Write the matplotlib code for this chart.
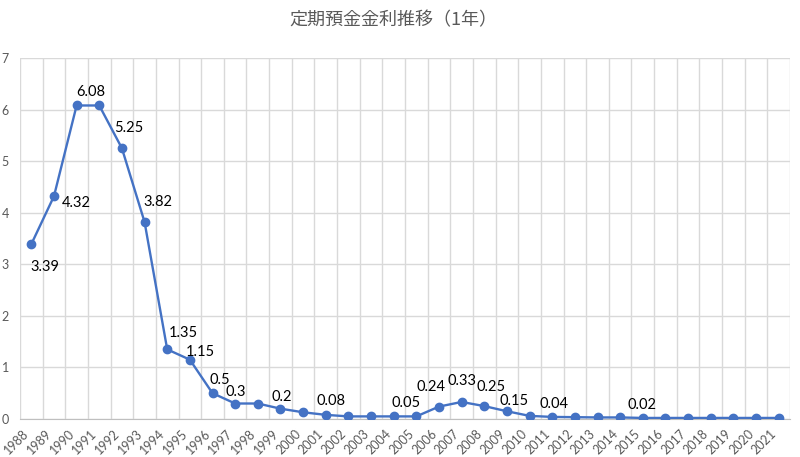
import matplotlib
matplotlib.use("Agg")
import matplotlib.pyplot as plt
import matplotlib.transforms as mtransforms
import numpy as np

years = [str(y) for y in range(1988, 2022)]
rates = [3.39, 4.32, 6.08, 6.08, 5.25, 3.82, 1.35, 1.15, 0.5, 0.3, 0.3, 0.2, 0.13,
         0.08, 0.05, 0.05, 0.05, 0.05, 0.24, 0.33, 0.25, 0.15, 0.06, 0.04, 0.035,
         0.03, 0.03, 0.02, 0.02, 0.02, 0.02, 0.02, 0.02, 0.02]
# labelled points: index -> (dx, dy) pixel offsets
label_idx = [0, 1, 2, 4, 5, 6, 7, 8, 9, 11, 13, 17, 18, 19, 20, 21, 23, 27]
label_off = {0: (14, -23), 1: (22, -7), 2: (14, 13), 4: (7, 20), 5: (13, 20),
             6: (16, 16), 7: (10, 8), 8: (7, 13), 9: (1, 12), 11: (1, 12),
             13: (5, 14), 17: (-10, 13), 18: (-8, 20), 19: (0, 21), 20: (7, 19),
             21: (7, 10), 23: (2, 13), 27: (-1, 13)}

plt.rcParams['font.family'] = ['Noto Sans CJK JP', 'DejaVu Sans']

fig = plt.figure(figsize=(8, 4.57), dpi=100)
ax = fig.add_axes([0.025, 0.0832, 0.9625, 0.7898])

x = np.arange(len(years))
ax.plot(x, rates, color='#4472C4', lw=1.7, marker='o', markersize=6, zorder=3)

for i in label_idx:
    dx, dy = label_off[i]
    v = rates[i]
    txt = f"{v:g}"
    ax.annotate(txt, (x[i], v), xytext=(dx, dy), textcoords='offset pixels',
                ha='center', va='center', fontsize=10.5, color='#000000',
                family=['Lato', 'DejaVu Sans'], zorder=4)

ax.set_xlim(-0.5, len(years) - 0.5)
ax.set_ylim(0, 7)
ax.set_xticks(x)
ax.set_xticklabels(years, rotation=45, ha='right', va='top',
                   fontsize=9, color='#595959', family=['Lato', 'DejaVu Sans'])
shift = mtransforms.ScaledTranslation(4 / 100, 0, fig.dpi_scale_trans)
for lab in ax.get_xticklabels():
    lab.set_transform(lab.get_transform() + shift)
ax.set_yticks(range(0, 8))
ax.set_yticklabels([str(v) for v in range(0, 8)], fontsize=9, color='#595959',
                   family=['Lato', 'DejaVu Sans'])
ax.tick_params(axis='both', length=0)
ax.tick_params(axis='y', pad=8)
ax.tick_params(axis='x', pad=6)
ax.set_xticks(np.arange(-0.5, len(years), 1.0), minor=True)
ax.tick_params(which='minor', length=0)
ax.grid(True, which='minor', axis='x', color='#D9D9D9', lw=1)
ax.grid(True, which='major', axis='y', color='#D9D9D9', lw=1)
for s in ['top', 'right', 'left']:
    ax.spines[s].set_visible(False)
ax.spines['bottom'].set_color('#BFBFBF')
ax.set_axisbelow(True)

fig.text(0.492, 0.955, '定期預金金利推移（1年）', ha='center', va='center',
         fontsize=13, color='#595959')

fig.savefig('out.png', dpi=100)
